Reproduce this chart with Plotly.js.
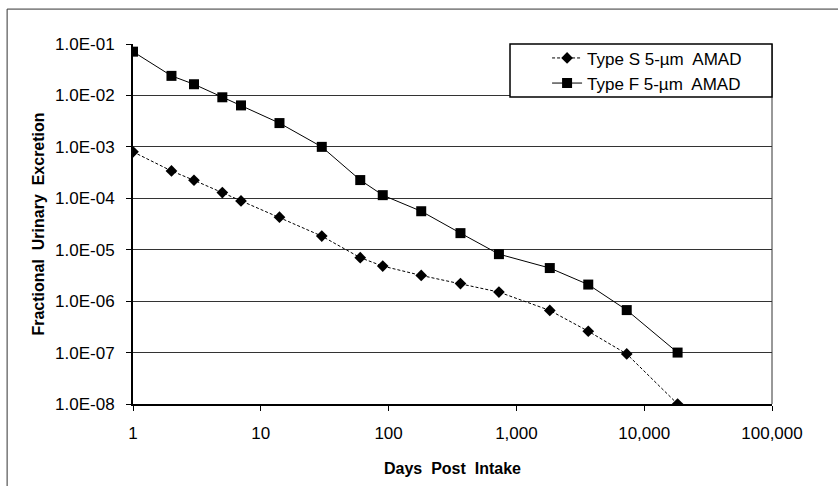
<!DOCTYPE html>
<html>
<head>
<meta charset="utf-8">
<script src="https://cdn.plot.ly/plotly-3.0.1.min.js"></script>
<style>html,body{margin:0;padding:0;background:#fff;}#chart{width:838px;height:486px;}</style>
</head>
<body>
<div id="chart"></div>
<script>
const days = [1, 2, 3, 5, 7, 14, 30, 60, 90, 180, 365, 730, 1825, 3650, 7300, 18250];
const typeS = [8.0e-4, 3.4e-4, 2.24e-4, 1.29e-4, 8.9e-5, 4.3e-5, 1.84e-5, 7.0e-6, 4.8e-6, 3.16e-6, 2.2e-6, 1.5e-6, 6.6e-7, 2.6e-7, 9.4e-8, 1.0e-8];
const typeF = [7.1e-2, 2.4e-2, 1.65e-2, 9.2e-3, 6.4e-3, 2.9e-3, 1.0e-3, 2.26e-4, 1.15e-4, 5.6e-5, 2.1e-5, 8.2e-6, 4.4e-6, 2.1e-6, 6.7e-7, 1.0e-7];
const xTickVals = [1, 10, 100, 1000, 10000, 100000];
const xTickText = ["1", "10", "100", "1,000", "10,000", "100,000"];
const yTickVals = [1e-8, 1e-7, 1e-6, 1e-5, 1e-4, 1e-3, 1e-2, 1e-1];
const yTickText = ["1.0E-08", "1.0E-07", "1.0E-06", "1.0E-05", "1.0E-04", "1.0E-03", "1.0E-02", "1.0E-01"];
const seriesNames = ["Type S 5-µm  AMAD", "Type F 5-µm  AMAD"];

const font = "Liberation Sans, Arial, sans-serif";

const traces = [
  {
    x: days, y: typeS, name: seriesNames[0], type: "scatter", mode: "lines+markers",
    legendgroup: "s",
    line: {color: "#000", width: 1, dash: "3px,2px"},
    marker: {symbol: "diamond", size: 9, color: "#000"}
  },
  {
    x: days, y: typeF, name: seriesNames[1], type: "scatter", mode: "lines+markers",
    legendgroup: "f",
    line: {color: "#000", width: 1},
    marker: {symbol: "square", size: 10, color: "#000"}
  }
];

const layout = {
  width: 838, height: 486,
  margin: {l: 133, r: 66, t: 44, b: 82},
  paper_bgcolor: "#fff", plot_bgcolor: "#fff",
  font: {family: font, size: 17, color: "#000"},
  showlegend: true,
  legend: {
    x: 0.648, y: 1.01, xanchor: "left", yanchor: "top",
    bgcolor: "rgba(0,0,0,0)", borderwidth: 0,
    font: {family: font, size: 17, color: "#000"},
    tracegroupgap: 0
  },
  xaxis: {
    type: "log", range: [0, 5],
    tickvals: xTickVals, ticktext: xTickText,
    ticks: "outside", ticklen: 5, tickwidth: 1, tickcolor: "#000",
    ticklabelstandoff: 8,
    showgrid: false, zeroline: false,
    showline: true, linecolor: "#000", linewidth: 2,
    tickfont: {family: font, size: 17, color: "#000"},
    title: {text: "Days  Post  Intake", font: {family: font, size: 16, color: "#000", weight: "bold"}, standoff: 20}
  },
  yaxis: {
    type: "log", range: [-8, -1],
    tickvals: yTickVals, ticktext: yTickText,
    ticks: "outside", ticklen: 5, tickwidth: 1, tickcolor: "#000",
    ticklabelstandoff: 8,
    showgrid: true, gridcolor: "#333", gridwidth: 1,
    zeroline: false,
    showline: true, linecolor: "#000", linewidth: 2,
    tickfont: {family: font, size: 17, color: "#000"},
    title: {text: "Fractional  Urinary  Excretion", font: {family: font, size: 16, color: "#000", weight: "bold"}, standoff: 6}
  },
  shapes: [
    {type: "rect", xref: "paper", yref: "paper", x0: -0.197, x1: 2, y0: -2, y1: 1.097,
     line: {color: "#333", width: 1}, fillcolor: "rgba(0,0,0,0)", layer: "below"},
    {type: "line", xref: "paper", yref: "paper", x0: 1, x1: 1, y0: 0, y1: 1,
     line: {color: "#333", width: 1}},
    {type: "rect", xref: "paper", yref: "paper", x0: 0.59, x1: 1, y0: 0.853, y1: 1,
     line: {color: "#000", width: 1.5}, fillcolor: "#fff", layer: "above"}
  ]
};

Plotly.newPlot("chart", traces, layout, {displayModeBar: false, staticPlot: true});
</script>
</body>
</html>
